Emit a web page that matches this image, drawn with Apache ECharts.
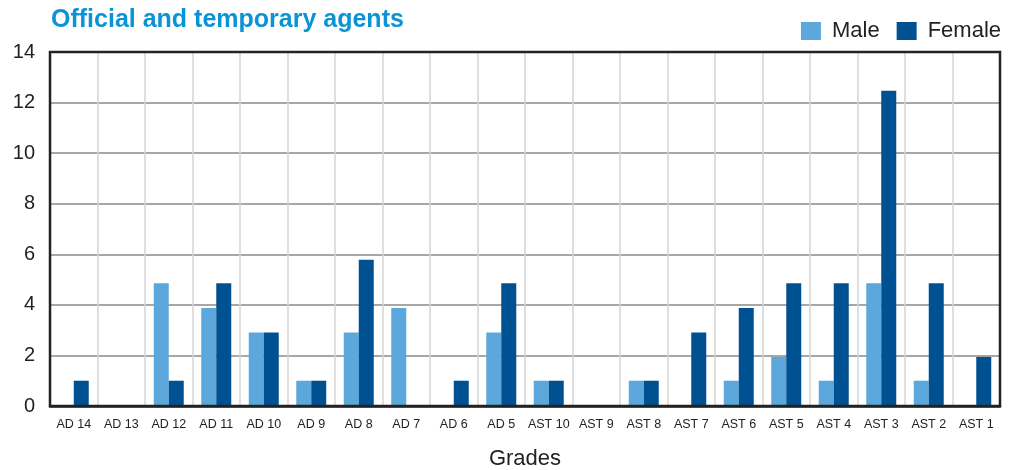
<!DOCTYPE html>
<html>
<head>
<meta charset="utf-8">
<script src="https://cdn.jsdelivr.net/npm/echarts@6/dist/echarts.min.js"></script>
<style>
  html, body { margin: 0; padding: 0; background: #fff; }
  #main { width: 1014px; height: 470px; }
</style>
</head>
<body>
<div id="main"></div>
<script>
var grades = ["AD 14", "AD 13", "AD 12", "AD 11", "AD 10", "AD 9", "AD 8", "AD 7", "AD 6", "AD 5",
  "AST 10", "AST 9", "AST 8", "AST 7", "AST 6", "AST 5", "AST 4", "AST 3", "AST 2", "AST 1"];
var male = [0, 0, 4.85, 3.88, 2.91, 1, 2.91, 3.88, 0, 2.91, 1, 0, 1, 0, 1, 1.94, 1, 4.85, 1, 0];
var female = [1, 0, 1, 4.85, 2.91, 1, 5.78, 0, 1, 4.85, 1, 0, 1, 2.91, 3.88, 4.85, 4.85, 12.47, 4.85, 1.94];

var chart = echarts.init(document.getElementById("main"));
var font = "'Liberation Sans', Arial, sans-serif";

var option = {
  animation: false,
  textStyle: { fontFamily: font },
  title: {
    text: "Official and temporary agents",
    left: 46,
    top: 3,
    textStyle: { color: "#0a94d6", fontSize: 25, fontWeight: "bold", fontFamily: font }
  },
  legend: {
    right: 8,
    top: 15,
    icon: "rect",
    itemWidth: 20,
    itemHeight: 18,
    itemGap: 17,
    textStyle: { fontSize: 22, color: "#222", fontFamily: font, padding: [0, 0, 0, 6] },
    data: ["Male", "Female"]
  },
  grid: {
    left: 50,
    right: 14,
    top: 52,
    bottom: 64,
    show: true,
    z: 5,
    borderColor: "#222",
    borderWidth: 2.5,
    containLabel: false,
    outerBoundsMode: "none"
  },
  xAxis: {
    type: "category",
    data: grades,
    name: "Grades",
    nameLocation: "middle",
    nameGap: 42,
    nameTextStyle: { fontSize: 22, color: "#222", fontFamily: font },
    axisLine: { show: true, lineStyle: { color: "#222", width: 2.5 } },
    axisTick: { show: false },
    axisLabel: { interval: 0, fontSize: 12.5, color: "#222", margin: 12, fontFamily: font },
    splitLine: { show: true, interval: 0, lineStyle: { color: "#d4d4d4", width: 1.5 } }
  },
  yAxis: {
    type: "value",
    min: 0,
    max: 14,
    interval: 2,
    axisLine: { show: false },
    axisTick: { show: false },
    axisLabel: { fontSize: 20, color: "#222", margin: 15, fontFamily: font },
    splitLine: { show: true, lineStyle: { color: "#8a8a8a", width: 1.5 } }
  },
  series: [
    {
      name: "Male",
      type: "bar",
      data: male,
      barWidth: 15,
      barGap: "0%",
      itemStyle: { color: "#5ca8dd" }
    },
    {
      name: "Female",
      type: "bar",
      data: female,
      barWidth: 15,
      itemStyle: { color: "#005192" }
    }
  ]
};

chart.setOption(option);
</script>
</body>
</html>
